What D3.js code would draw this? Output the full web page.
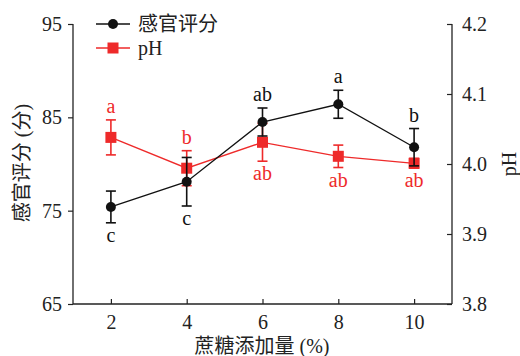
<!DOCTYPE html>
<html>
<head>
<meta charset="utf-8">
<script src="https://cdn.jsdelivr.net/npm/d3@7"></script>
<style>
  body { margin: 0; background: #fff; }
  text { font-family: "Liberation Serif", "Noto Sans CJK SC", serif; }
</style>
</head>
<body>
<script>
// sugar addition (%)
var levels = [2, 4, 6, 8, 10];
// sensory score, left axis
var score = [75.4, 78.1, 84.5, 86.4, 81.8];
var scoreErr = [1.7, 2.6, 1.5, 1.5, 2.0];
var scoreLetters = ["c", "c", "ab", "a", "b"];
var scoreBelow = [true, true, false, false, false];
// pH, right axis
var ph = [4.038, 3.994, 4.031, 4.011, 4.001];
var phErr = [0.025, 0.025, 0.027, 0.016, 0.007];
var phLetters = ["a", "b", "ab", "ab", "ab"];
var phBelow = [false, false, true, true, true];

var leftTicks = [65, 75, 85, 95];
var rightTicks = [3.8, 3.9, 4.0, 4.1, 4.2];

var W = 520, H = 356;
var red = "#ee2a2a", black = "#111";

var svg = d3.select("body").append("svg").attr("width", W).attr("height", H);

var x = d3.scaleLinear().domain([1, 11]).range([73, 452]);
var yL = d3.scaleLinear().domain([65, 95]).range([304, 24]);
var yR = d3.scaleLinear().domain([3.8, 4.2]).range([304, 24]);

// axes
var gL = svg.append("g").attr("transform", "translate(73,0)")
  .call(d3.axisLeft(yL).tickValues(leftTicks).tickSize(5).tickPadding(6).tickFormat(d3.format("d")));
var gR = svg.append("g").attr("transform", "translate(452,0)")
  .call(d3.axisRight(yR).tickValues(rightTicks).tickSize(-5).tickPadding(10).tickFormat(d3.format(".1f")));
var gB = svg.append("g").attr("transform", "translate(0,304)")
  .call(d3.axisBottom(x).tickValues(levels).tickSize(-5).tickPadding(11).tickFormat(d3.format("d")));

[gL, gR, gB].forEach(function(g){
  g.select(".domain").attr("stroke", "#222").attr("stroke-width", 1.3);
  g.selectAll(".tick line").attr("stroke", "#222").attr("stroke-width", 1.2);
  g.selectAll(".tick text").attr("font-size", 20).attr("fill", "#222")
    .style("font-family", "Liberation Serif");
});
gB.select(".domain").attr("d", "M73,0H452");
gL.select(".domain").attr("d", "M0,24V304");
gR.select(".domain").attr("d", "M0,24V304");

// axis titles
svg.append("text").attr("transform", "translate(" + 29 + "," + 163 + ") rotate(-90)")
  .attr("text-anchor", "middle").attr("font-size", 20).attr("fill", "#222")
  .text("感官评分 (分)");
svg.append("text").attr("transform", "translate(" + 516 + "," + 164 + ") rotate(-90)")
  .attr("text-anchor", "middle").attr("font-size", 20).attr("fill", "#222")
  .text("pH");
svg.append("text").attr("x", 262).attr("y", 353)
  .attr("text-anchor", "middle").attr("font-size", 20).attr("fill", "#222")
  .text("蔗糖添加量 (%)");

function drawSeries(vals, errs, yS, color, marker, letters, below) {
  var g = svg.append("g");
  var pts = levels.map(function(l, i){ return {x: l, v: vals[i], e: errs[i], lab: letters[i], below: below[i]}; });
  g.append("path").datum(pts)
    .attr("fill", "none").attr("stroke", color).attr("stroke-width", 1.3)
    .attr("d", d3.line().x(function(d){ return x(d.x); }).y(function(d){ return yS(d.v); }));
  var eb = g.selectAll(".eb").data(pts).enter().append("g").attr("stroke", color).attr("stroke-width", 1.6);
  eb.append("line").attr("x1", function(d){ return x(d.x); }).attr("x2", function(d){ return x(d.x); })
    .attr("y1", function(d){ return yS(d.v - d.e); }).attr("y2", function(d){ return yS(d.v + d.e); });
  eb.append("line").attr("x1", function(d){ return x(d.x) - 5; }).attr("x2", function(d){ return x(d.x) + 5; })
    .attr("y1", function(d){ return yS(d.v + d.e); }).attr("y2", function(d){ return yS(d.v + d.e); });
  eb.append("line").attr("x1", function(d){ return x(d.x) - 5; }).attr("x2", function(d){ return x(d.x) + 5; })
    .attr("y1", function(d){ return yS(d.v - d.e); }).attr("y2", function(d){ return yS(d.v - d.e); });
  if (marker === "circle") {
    g.selectAll(".m").data(pts).enter().append("circle")
      .attr("cx", function(d){ return x(d.x); }).attr("cy", function(d){ return yS(d.v); })
      .attr("r", 5).attr("fill", color);
  } else {
    g.selectAll(".m").data(pts).enter().append("rect")
      .attr("x", function(d){ return x(d.x) - 5.5; }).attr("y", function(d){ return yS(d.v) - 5.5; })
      .attr("width", 11).attr("height", 11).attr("fill", color);
  }
  g.selectAll(".lab").data(pts).enter().append("text")
    .attr("x", function(d){ return x(d.x); })
    .attr("y", function(d){ return d.below ? yS(d.v - d.e) + 19 : yS(d.v + d.e) - 7; })
    .attr("text-anchor", "middle").attr("font-size", 20).attr("fill", color)
    .text(function(d){ return d.lab; });
}

drawSeries(ph, phErr, yR, red, "square", phLetters, phBelow);
drawSeries(score, scoreErr, yL, black, "circle", scoreLetters, scoreBelow);

// legend
var leg = svg.append("g");
var legItems = [{name: "感官评分", color: black, m: "circle", y: 24}, {name: "pH", color: red, m: "square", y: 48}];
legItems.forEach(function(it){
  leg.append("line").attr("x1", 96).attr("x2", 130).attr("y1", it.y).attr("y2", it.y)
    .attr("stroke", it.color).attr("stroke-width", 1.3);
  if (it.m === "circle") leg.append("circle").attr("cx", 113).attr("cy", it.y).attr("r", 5).attr("fill", it.color);
  else leg.append("rect").attr("x", 107.5).attr("y", it.y - 5.5).attr("width", 11).attr("height", 11).attr("fill", it.color);
  leg.append("text").attr("x", 138).attr("y", it.y + 7).attr("font-size", 20).attr("fill", "#222").text(it.name);
});
</script>
</body>
</html>
